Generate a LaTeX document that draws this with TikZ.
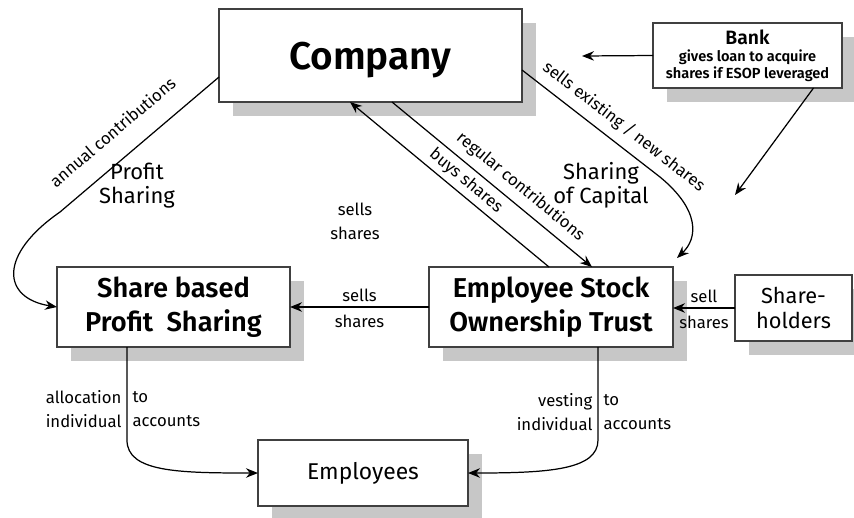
\documentclass[tikz,border=0pt]{standalone}
\usepackage{fontspec}
\setmainfont{Fira Sans}[BoldFont={Fira Sans SemiBold}]
\usepackage{tikz}
\usetikzlibrary{shadows,arrows.meta}

\begin{document}
\begin{tikzpicture}[x=0.2mm, y=-0.2mm,
  box/.style={draw=black!75, line width=0.6pt, fill=white, inner sep=0pt, outer sep=0pt, align=center,
    drop shadow={shadow xshift=2.8mm, shadow yshift=-2.8mm, fill=black!22, opacity=1}},
  arr/.style={line width=0.7pt, -{Stealth[length=2.4mm, width=1.9mm]}},
  lbl/.style={font=\fontsize{9.5}{13.6}\selectfont, inner sep=0pt, align=center},
  note/.style={font=\fontsize{12.5}{13.6}\selectfont, align=center}]
  % same page size as the reference
  \useasboundingbox (0,0) rectangle (854,517);

  % the boxes
  \node[box, minimum width=60.6mm, minimum height=18.6mm, text depth=0pt,
    font=\bfseries\fontsize{22}{24}\selectfont] (company) at (370.5,55.5) {Company};
  \node[box, minimum width=37.8mm, minimum height=13mm,
    font=\bfseries\fontsize{8.3}{9.6}\selectfont] (bank) at (747.5,55.5)
    {{\fontsize{11}{12}\selectfont Bank}\\gives loan to acquire\\shares if ESOP leveraged};
  \node[box, minimum width=46.6mm, minimum height=16mm,
    font=\bfseries\fontsize{15.5}{19}\selectfont] (sbps) at (173.5,307) {Share based\\Profit~ Sharing};
  \node[box, minimum width=48.8mm, minimum height=16mm,
    font=\bfseries\fontsize{15.5}{19}\selectfont] (esot) at (551,307) {Employee Stock\\Ownership Trust};
  \node[box, minimum width=23.4mm, minimum height=13.2mm,
    font=\fontsize{12.4}{14.6}\selectfont] (holders) at (793.5,308) {Share-\\holders};
  \node[box, minimum width=42mm, minimum height=13.2mm,
    font=\fontsize{13}{15}\selectfont] (staff) at (363,473) {Employees};

  % loose ends of the bank arrows
  \coordinate (banktip1) at (582,56);
  \coordinate (banktip2) at (735,195);

  % free labels
  \node[note] (profit) at (137,186) {Profit\\Sharing};
  \node[note] (capital) at (601,185) {Sharing\\of Capital};
  \node[lbl] (sells) at (355,221) {sells\\shares};

  % connectors
  \draw[arr] ([yshift=-4.3mm]company.west) -- node[lbl, sloped, above=4mm, pos=0.56] {annual contributions} (60,212)
    .. controls (-2,255) and (2,298) .. (sbps.west);
  \draw[arr] (bank.west) -- (banktip1);
  \draw[arr] ([xshift=13.2mm]bank.south) -- (banktip2);
  \draw[arr] ([yshift=-2.9mm]company.east) -- node[lbl, sloped, above=1.7mm, pos=0.66] {sells existing / new shares} (660,177)
    .. controls (700,210) and (698,238) .. ([xshift=0.8mm, yshift=1.8mm]esot.north east);
  \draw[arr] ([xshift=4.3mm]company.south) -- node[lbl, sloped, above=1.5mm, pos=0.59] {regular contributions} ([xshift=8.2mm]esot.north);
  \draw[arr] ([xshift=-0.4mm]esot.north) -- node[lbl, sloped, above=0.9mm, pos=0.46] {buys shares} ([xshift=-4.1mm]company.south);
  \draw[arr] (esot.west) -- node[lbl, above=1mm] {sells} node[lbl, below=1.5mm] {shares} (sbps.east);
  \draw[arr] (holders.west) -- node[lbl, above=1mm] {sell} node[lbl, below=1.5mm] {shares} (holders.west -| esot.east);
  \draw[arr] ([xshift=-9.3mm]sbps.south) -- node[lbl, left=1mm, pos=0.67, align=right] {allocation\\individual}
    node[lbl, right=1mm, pos=0.67, align=left] {to\\accounts} ++(0,93)
    .. controls +(0,32) and +(-80,0) .. (staff.west);
  \draw[arr] ([xshift=9.4mm]esot.south) -- node[lbl, left=1mm, pos=0.7, align=right] {vesting\\individual}
    node[lbl, right=1mm, pos=0.7, align=left] {to\\accounts} ++(0,93)
    .. controls +(0,30) and +(80,0) .. (staff.east);
\end{tikzpicture}
\end{document}
